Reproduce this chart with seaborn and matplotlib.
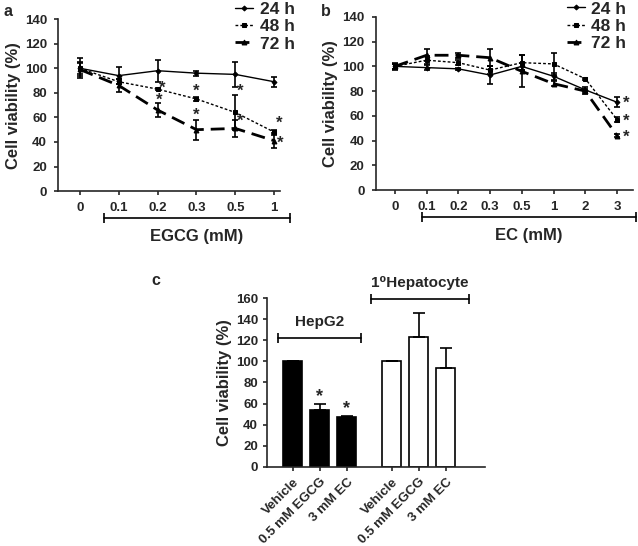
## cell viability line + bar panels
import matplotlib
matplotlib.use("Agg")
import matplotlib.pyplot as plt
import matplotlib.transforms as mtransforms
import numpy as np
import pandas as pd
import seaborn as sns

# data -- panel a (EGCG)
doses_a = ['0', '0.1', '0.2', '0.3', '0.5', '1']
a24 = [100, 94, 98, 96, 95, 89]
a24_err = [8, 7, 9, 2, 10, 4]
a48 = [100, 89, 83, 75, 64, 48]
a48_err = [5, 2, 1, 2, 14, 2]
a72 = [99, 86, 66, 50, 51, 41]
a72_err = [5, 5, 6, 8, 7, 6]
# stars (x position, y)
stars_a = [(2.13, 84), (2.05, 74), (3.0, 81), (3.0, 62), (4.13, 81), (4.13, 57),
           (5.13, 55), (5.15, 39)]

# data -- panel b (EC)
doses_b = ['0', '0.1', '0.2', '0.3', '0.5', '1', '2', '3']
b24 = [100, 99, 98, 93, 100, 92, 81, 71]
b24_err = [2, 2, 1, 7, 3, 3, 2, 4]
b48 = [100, 105, 103, 97, 103, 102, 90, 57]
b48_err = [3, 3, 2, 3, 6, 9, 1, 2]
b72 = [100, 109, 109, 107, 96, 86, 80, 44]
b72_err = [2, 5, 2, 7, 13, 2, 2, 1]
stars_b = [(7.3, 70), (7.3, 56), (7.3, 43)]

# data -- panel c
treatments = ['Vehicle', '0.5 mM EGCG', '3 mM EC']
hepg2 = [100, 54, 47]
hepg2_err = [0, 6, 1]
primary = [100, 123, 94]
primary_err = [0, 23, 19]
stars_c = [(1, 67), (2, 55)]

sns.set_style("ticks")
plt.rcParams['font.family'] = ['Liberation Sans', 'DejaVu Sans']
plt.rcParams['font.weight'] = 'bold'
plt.rcParams['axes.linewidth'] = 1.2

fig = plt.figure(figsize=(6.38, 5.46), dpi=100)
ax_a = fig.add_axes([0.091, 0.650, 0.348, 0.315])
ax_b = fig.add_axes([0.589, 0.652, 0.403, 0.317])
ax_c = fig.add_axes([0.4185, 0.145, 0.342, 0.309])

styles = [('24 h', '-', 'D', 2.5, 1.0), ('48 h', (0, (2, 1.5)), 's', 3.5, 1.0),
          ('72 h', (0, (5, 2.5)), '^', 3.5, 2.0)]


def draw_lines(ax, doses, series, errs, stars, xlim, bracket, xlabel, leg_anchor):
    x = np.arange(len(doses))
    for (lab, ls, mk, ms, lw), y, e in zip(styles, series, errs):
        sns.lineplot(x=x, y=y, ax=ax, color='black', linestyle=ls, marker=mk,
                     markersize=ms, linewidth=lw, markeredgecolor='black', label=lab)
        ax.errorbar(x, y, yerr=e, fmt='none', ecolor='black', elinewidth=1.2,
                    capsize=2.5, capthick=1.2)
    for sx, sy in stars:
        ax.text(sx, sy, '*', fontsize=12, ha='center', va='center')
    ax.set_xlim(*xlim)
    ax.set_ylim(0, 140)
    ax.set_yticks(range(0, 141, 20))
    ax.set_xticks(x)
    ax.set_xticklabels(doses)
    ax.tick_params(labelsize=9.5, length=3, width=1.2, pad=5)
    ax.set_ylabel('Cell viability (%)', fontsize=12, fontweight='bold', labelpad=3)
    sns.despine(ax=ax)
    trans = mtransforms.blended_transform_factory(ax.transData, ax.transAxes)
    ax.plot(bracket, [-0.157, -0.157], color='black', lw=1.2, transform=trans,
            clip_on=False, marker='|', markersize=7, markeredgewidth=1.2)
    ax.text(np.mean(bracket), -0.265, xlabel, transform=trans, ha='center',
            va='center', fontsize=12, fontweight='bold')
    leg = ax.legend(loc='upper right', bbox_to_anchor=leg_anchor, frameon=False,
                    fontsize=12.5, handlelength=1.0, handletextpad=0.4,
                    labelspacing=0.12, borderaxespad=0, borderpad=0)
    for t in leg.get_texts():
        t.set_fontweight('bold')


draw_lines(ax_a, doses_a, [a24, a48, a72], [a24_err, a48_err, a72_err], stars_a,
           (-0.56, 5.15), [0.615, 5.41], 'EGCG (mM)', (1.065, 1.10))
draw_lines(ax_b, doses_b, [b24, b48, b72], [b24_err, b48_err, b72_err], stars_b,
           (-0.6, 7.5), [0.85, 7.6], 'EC (mM)', (0.975, 1.09))

# panel c bars
pos = [0, 1, 2, 3.67, 4.67, 5.67]
df_c = pd.DataFrame({
    'pos': pos,
    'value': hepg2 + primary,
    'cell': ['HepG2'] * 3 + ['Primary'] * 3,
})
sns.barplot(data=df_c, x='pos', y='value', hue='cell', native_scale=True, dodge=False,
            palette={'HepG2': 'black', 'Primary': 'white'}, edgecolor='black',
            linewidth=1.2, width=0.7, errorbar=None, legend=False, ax=ax_c)
errs_c = hepg2_err + primary_err
ax_c.errorbar(pos, df_c['value'], yerr=[np.zeros(6), errs_c], fmt='none',
              ecolor='black', elinewidth=1.2, capsize=4, capthick=1.2)
for sx, sy in stars_c:
    ax_c.text(pos[sx], sy, '*', fontsize=13, ha='center', va='center')
ax_c.set_xlim(-0.95, 7.13)
ax_c.set_ylim(0, 160)
ax_c.set_yticks(range(0, 161, 20))
ax_c.set_xticks(pos)
ax_c.set_xticklabels(treatments * 2, rotation=45, ha='right', rotation_mode='anchor')
ax_c.tick_params(labelsize=9.5, length=3, width=1.2)
ax_c.set_xlabel('')
ax_c.set_ylabel('Cell viability (%)', fontsize=12, fontweight='bold', labelpad=3)
sns.despine(ax=ax_c)
ax_c.plot([-0.54, 2.54], [122, 122], color='black', lw=1.2, marker='|',
          markersize=7, markeredgewidth=1.2, clip_on=False)
ax_c.text(1.0, 137, 'HepG2', ha='center', va='center', fontsize=11, fontweight='bold')
ax_c.plot([2.9, 6.54], [159, 159], color='black', lw=1.2, marker='|',
          markersize=7, markeredgewidth=1.2, clip_on=False)
ax_c.text(4.72, 174, '1⁰Hepatocyte', ha='center', va='center', fontsize=11,
          fontweight='bold')

fig.text(0.006, 0.993, 'a', fontsize=11.5, fontweight='bold', va='top')
fig.text(0.503, 0.993, 'b', fontsize=11.5, fontweight='bold', va='top')
fig.text(0.238, 0.50, 'c', fontsize=11.5, fontweight='bold', va='top')

fig.savefig('out.png', dpi=100)
